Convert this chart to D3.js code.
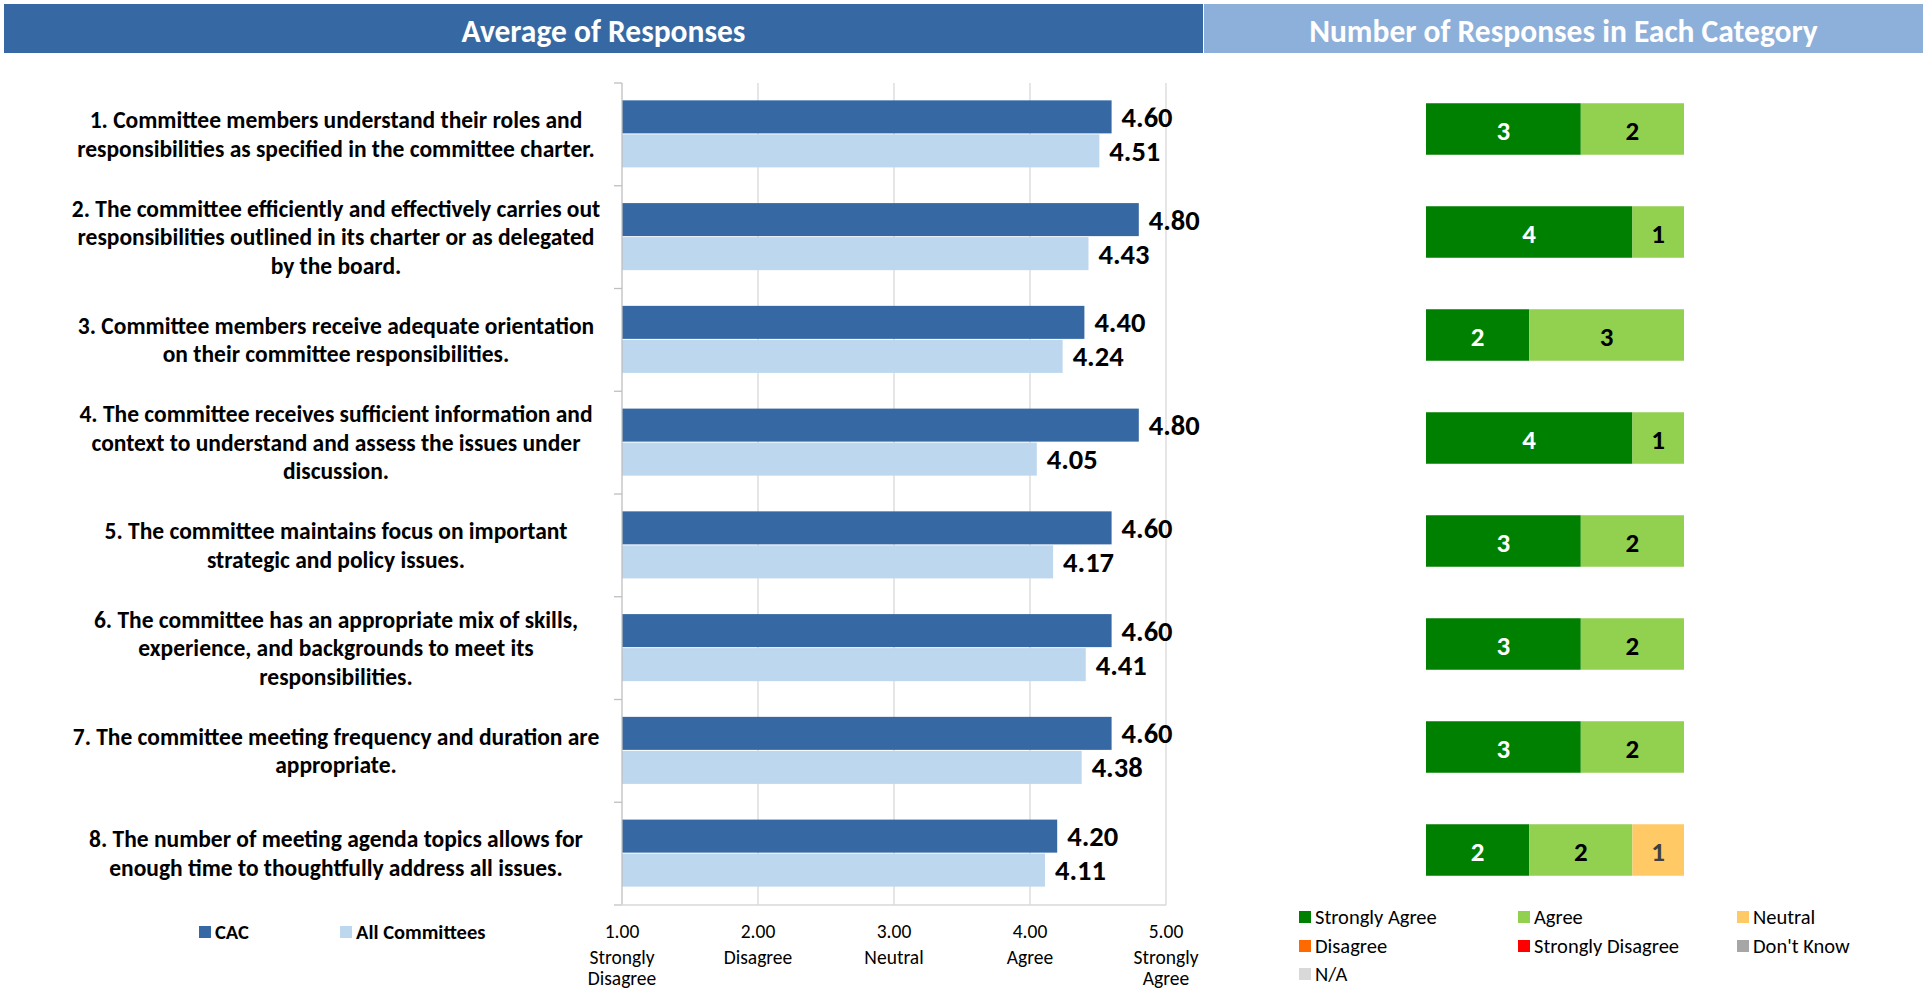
<!DOCTYPE html>
<html><head><meta charset="utf-8">
<script src="https://cdn.jsdelivr.net/npm/d3@7"></script>
<style>
body{margin:0;background:#fff;}
svg{display:block;font-family:Carlito, Lato, "Open Sans", sans-serif;}
</style></head>
<body><svg id="c" width="1925" height="1005"></svg>
<script>
// ---- data ----
const questions = [
  ["1. Committee members understand their roles and","responsibilities as specified in the committee charter."],
  ["2. The committee efficiently and effectively carries out","responsibilities outlined in its charter or as delegated","by the board."],
  ["3. Committee members receive adequate orientation","on their committee responsibilities."],
  ["4. The committee receives sufficient information and","context to understand and assess the issues under","discussion."],
  ["5. The committee maintains focus on important","strategic and policy issues."],
  ["6. The committee has an appropriate mix of skills,","experience, and backgrounds to meet its","responsibilities."],
  ["7. The committee meeting frequency and duration are","appropriate."],
  ["8. The number of meeting agenda topics allows for","enough time to thoughtfully address all issues."]
];
const cacValues = [4.60, 4.80, 4.40, 4.80, 4.60, 4.60, 4.60, 4.20];
const allValues = [4.51, 4.43, 4.24, 4.05, 4.17, 4.41, 4.38, 4.11];
const seriesNames = ["CAC", "All Committees"];
const tickValues = [1, 2, 3, 4, 5];
const tickLabels = [["1.00","Strongly","Disagree"],["2.00","Disagree"],["3.00","Neutral"],["4.00","Agree"],["5.00","Strongly","Agree"]];
const responseCategories = ["Strongly Agree","Agree","Neutral","Disagree","Strongly Disagree","Don't Know","N/A"];
const stronglyAgreeCounts = [3, 4, 2, 4, 3, 3, 3, 2];
const agreeCounts        = [2, 1, 3, 1, 2, 2, 2, 2];
const neutralCounts      = [0, 0, 0, 0, 0, 0, 0, 1];
const disagreeCounts     = [0, 0, 0, 0, 0, 0, 0, 0];
const stronglyDisagreeCounts = [0, 0, 0, 0, 0, 0, 0, 0];
const dontKnowCounts     = [0, 0, 0, 0, 0, 0, 0, 0];
const naCounts           = [0, 0, 0, 0, 0, 0, 0, 0];
const headers = ["Average of Responses", "Number of Responses in Each Category"];

// ---- styles ----
const cacColor = "#3669A3", allColor = "#BDD7EE";
const catColors = ["#008000","#92D050","#FFC966","#FF6A00","#FF0000","#A6A6A6","#D9D9D9"];
const catTextColors = ["#ffffff","#000000","#404040","#000000","#ffffff","#000000","#000000"];

const svg = d3.select("#c");

// headers
svg.append("rect").attr("x",4).attr("y",4).attr("width",1199).attr("height",49).attr("fill","#3669A3");
svg.append("rect").attr("x",1204).attr("y",4).attr("width",719).attr("height",49).attr("fill","#8DB0DA");
svg.append("text").attr("x",603.5).attr("y",31).attr("text-anchor","middle").attr("dominant-baseline","central")
  .attr("fill","#fff").attr("font-weight","bold").attr("font-size",31.5).text(headers[0]);
svg.append("text").attr("x",1563.5).attr("y",31).attr("text-anchor","middle").attr("dominant-baseline","central")
  .attr("fill","#fff").attr("font-weight","bold").attr("font-size",31.5).text(headers[1]);

// ---- left chart ----
const x = d3.scaleLinear().domain([1,5]).range([622,1166]);
const y = d3.scaleBand().domain(d3.range(questions.length)).range([83,905]);
const ySub = d3.scaleBand().domain(seriesNames).range([0, y.bandwidth()]).paddingInner(0).paddingOuter(0.51);

// gridlines
svg.append("g").selectAll("line").data(tickValues.slice(1)).join("line")
  .attr("x1",d=>x(d)).attr("x2",d=>x(d)).attr("y1",83).attr("y2",905)
  .attr("stroke","#D9D9D9").attr("stroke-width",1.3);

const rows = svg.append("g").selectAll("g").data(d3.range(questions.length)).join("g")
  .attr("transform", i => `translate(0,${y(i)})`);
const series = [cacValues, allValues];
const colors = [cacColor, allColor];
series.forEach((vals, s) => {
  rows.append("rect")
    .attr("x", x(1)).attr("y", ySub(seriesNames[s]))
    .attr("width", i => x(vals[i]) - x(1)).attr("height", ySub.bandwidth() - 1)
    .attr("fill", colors[s]);
  rows.append("text")
    .attr("x", i => x(vals[i]) + 10).attr("y", ySub(seriesNames[s]) + ySub.bandwidth()/2)
    .attr("dominant-baseline","central").attr("font-weight","bold").attr("font-size",28.5).attr("fill","#000")
    .text(i => vals[i].toFixed(2));
});

// category labels
rows.each(function(i){
  const lines = questions[i];
  const lh = 28.5;
  const t = d3.select(this).append("text").attr("text-anchor","middle").attr("font-weight","bold")
    .attr("font-size",23.5).attr("fill","#000");
  lines.forEach((ln, k) => {
    t.append("tspan").attr("x",336).attr("y", y.bandwidth()/2 + (k - (lines.length-1)/2)*lh)
      .attr("dominant-baseline","central").text(ln);
  });
});

// y axis with ticks at band boundaries
svg.append("line").attr("x1",x(1)).attr("x2",x(1)).attr("y1",83).attr("y2",905).attr("stroke","#BFBFBF").attr("stroke-width",1.3);
svg.append("g").selectAll("line").data(d3.range(questions.length+1)).join("line")
  .attr("x1",x(1)-8).attr("x2",x(1)).attr("y1",i=>83+i*y.step()).attr("y2",i=>83+i*y.step())
  .attr("stroke","#BFBFBF").attr("stroke-width",1.3);
// x axis line
svg.append("line").attr("x1",x(1)-8).attr("x2",x(5)).attr("y1",905).attr("y2",905).attr("stroke","#D9D9D9").attr("stroke-width",1.3);

// x tick labels (each line its own text element)
const tg = svg.append("g").attr("font-size",19.5).attr("fill","#000").attr("text-anchor","middle");
tickValues.forEach((d,i)=>{
  tg.selectAll(null).data(tickLabels[i]).join("text")
    .attr("x",x(d)).attr("y",(ln,k)=>931 + (k===0?0:5+k*21))
    .attr("dominant-baseline","central").text(ln=>ln);
});

// left legend
const legX = [199, 340];
seriesNames.forEach((n,s)=>{
  svg.append("rect").attr("x",legX[s]).attr("y",926).attr("width",12).attr("height",12).attr("fill",colors[s]);
  svg.append("text").attr("x",legX[s]+16).attr("y",932).attr("dominant-baseline","central")
    .attr("font-weight","bold").attr("font-size",20.5).text(n);
});

// ---- right chart ----
const counts = [stronglyAgreeCounts, agreeCounts, neutralCounts, disagreeCounts, stronglyDisagreeCounts, dontKnowCounts, naCounts];
const xr = d3.scaleLinear().domain([0,5]).range([1426,1684]);
const yr = d3.scaleBand().domain(d3.range(questions.length)).range([77.5,901.5]).paddingInner(0.5).paddingOuter(0.25);
const stackData = d3.range(questions.length).map(i => {
  const o = {i};
  responseCategories.forEach((c,k)=> o[c] = counts[k][i]);
  return o;
});
const stacked = d3.stack().keys(responseCategories)(stackData);
const sg = svg.append("g").selectAll("g").data(stacked).join("g");
sg.each(function(layer, k){
  const segs = layer.filter(d => d[1] - d[0] > 0);
  const g = d3.select(this);
  g.selectAll("rect").data(segs).join("rect")
    .attr("x", d => xr(d[0])).attr("width", d => xr(d[1]) - xr(d[0]))
    .attr("y", d => yr(d.data.i)).attr("height", yr.bandwidth())
    .attr("fill", catColors[k]);
  g.selectAll("text").data(segs).join("text")
    .attr("x", d => (xr(d[0]) + xr(d[1]))/2).attr("y", d => yr(d.data.i) + yr.bandwidth()/2 + 1)
    .attr("text-anchor","middle").attr("dominant-baseline","central")
    .attr("font-weight","bold").attr("font-size",27).attr("fill", catTextColors[k])
    .text(d => d[1] - d[0]);
});

// right legend
const rlegX = [1299, 1518, 1737];
const rlegY = [917, 946, 974];
responseCategories.forEach((c,k)=>{
  const cx = rlegX[k%3], cy = rlegY[Math.floor(k/3)];
  svg.append("rect").attr("x",cx).attr("y",cy-6).attr("width",12).attr("height",12).attr("fill",catColors[k]);
  svg.append("text").attr("x",cx+16).attr("y",cy).attr("dominant-baseline","central")
    .attr("font-size",20.5).attr("fill","#000").text(c);
});
</script>
</body></html>
